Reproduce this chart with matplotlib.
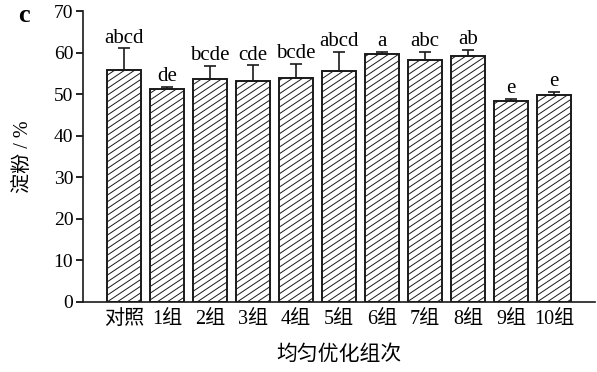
import matplotlib
matplotlib.use("Agg")
import matplotlib.pyplot as plt
import matplotlib.hatch as mhatch
from matplotlib.path import Path
import numpy as np

plt.rcParams['font.family'] = ['Liberation Serif', 'Noto Sans CJK SC']
plt.rcParams['hatch.linewidth'] = 0.7
plt.rcParams['hatch.color'] = '#555555'


class ShallowDiagonalHatch(mhatch.HatchPatternBase):
    """'/' hatch drawn at slope 2/3 (about 34 degrees), 15 lines per tile."""

    def __init__(self, hatch, density):
        self.offsets = np.arange(-10, 16) / 15 if hatch.count('/') else np.array([])
        self.num_lines = len(self.offsets)
        self.num_vertices = 2 * self.num_lines

    def set_vertices_and_codes(self, vertices, codes):
        vertices[0::2, 0] = 0.0
        vertices[0::2, 1] = self.offsets
        vertices[1::2, 0] = 1.0
        vertices[1::2, 1] = self.offsets + 2 / 3
        codes[0::2] = Path.MOVETO
        codes[1::2] = Path.LINETO


mhatch._hatch_types = [ShallowDiagonalHatch if h is mhatch.NorthEastHatch else h
                       for h in mhatch._hatch_types]

groups = ['对照', '1组', '2组', '3组', '4组', '5组', '6组', '7组', '8组', '9组', '10组']
starch = [55.7, 51.3, 53.6, 53.2, 53.8, 55.6, 59.7, 58.1, 59.1, 48.4, 49.7]
err_top = [61.0, 51.7, 56.8, 56.9, 57.2, 60.2, 60.1, 60.1, 60.6, 48.8, 50.5]
letters = ['abcd', 'de', 'bcde', 'cde', 'bcde', 'abcd', 'a', 'abc', 'ab', 'e', 'e']

err = np.array(err_top) - np.array(starch)
x = np.arange(len(groups))

fig = plt.figure(figsize=(5.97, 3.72), dpi=100)
ax = fig.add_axes([83/597, 1-302/372, 512/597, 291/372])

ax.bar(x, starch, width=0.8, color='white', edgecolor='#1a1a1a', linewidth=1.4,
       hatch='/', zorder=2)
ax.errorbar(x, starch, yerr=[np.zeros_like(err), err], fmt='none', ecolor='#1a1a1a',
            elinewidth=1.2, capsize=4, capthick=1.2, zorder=3)
for xi, top, lab in zip(x, err_top, letters):
    ax.text(xi, top + 0.2, lab, ha='center', va='bottom', fontsize=15)

ax.set_xlim(-0.95, 10.95)
ax.set_ylim(0, 70)
ax.set_yticks(range(0, 71, 10))
ax.set_xticks(x)
ax.set_xticklabels(groups, fontsize=14.5)
ax.tick_params(axis='x', length=0, pad=6)
ax.tick_params(axis='y', direction='out', length=5, width=1.2, labelsize=14, pad=2)
for s in ['top', 'right']:
    ax.spines[s].set_visible(False)
for s in ['left', 'bottom']:
    ax.spines[s].set_linewidth(1.2)
    ax.spines[s].set_color('#1a1a1a')

ax.set_ylabel('淀粉 / %', fontsize=14.5, va='center')
ax.yaxis.set_label_coords(-0.117, 0.5)
ax.set_xlabel('均匀优化组次', fontsize=15, va='center')
ax.xaxis.set_label_coords(0.5, -(355-302)/291)
fig.text(24/597, 1-15/372, 'c', fontsize=19, fontweight='bold', ha='center', va='center')

fig.savefig('out.png', dpi=100)
